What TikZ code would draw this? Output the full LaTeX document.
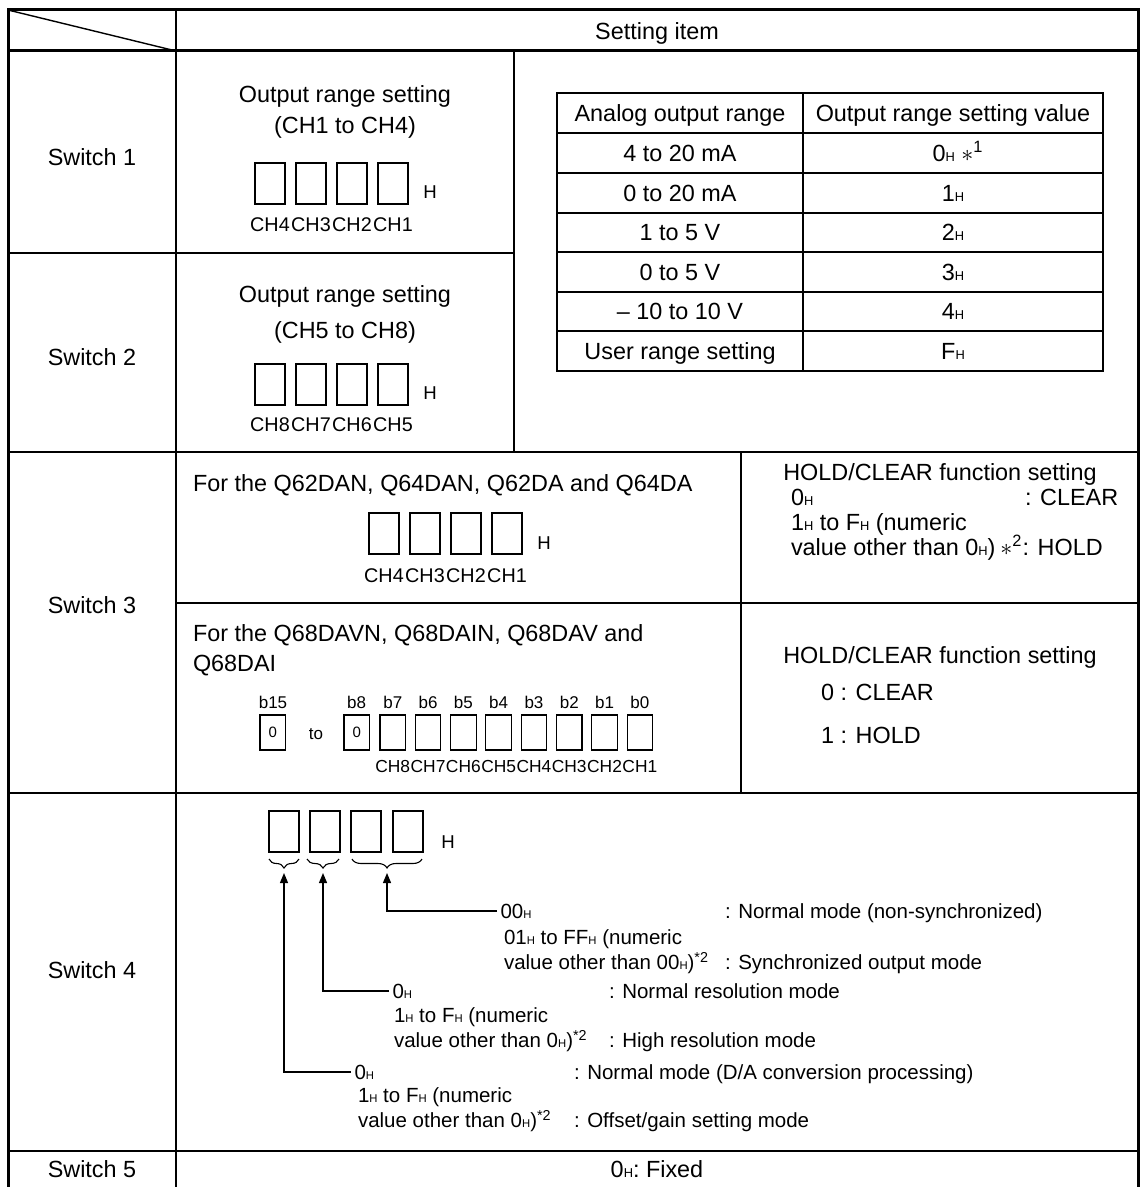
\documentclass[tikz,border=0pt]{standalone}
\usepackage{fontspec}
\setmainfont{Liberation Sans}
\usetikzlibrary{arrows.meta,decorations.pathreplacing}
\newcommand\Hs{{\fontsize{0.55em}{0.6em}\selectfont H}}
\begin{document}
\begin{tikzpicture}[x=0.5pt,y=-0.5pt,
  every node/.style={inner sep=0pt, outer sep=0pt},
  main/.style={font=\fontsize{11.7}{14}\selectfont, text height=8.4pt, text depth=0pt},
  swf/.style={font=\fontsize{10.25}{12}\selectfont, text height=7.35pt, text depth=0pt},
  chf/.style={font=\fontsize{9.9}{11}\selectfont, text height=7.1pt, text depth=0pt},
  chg/.style={font=\fontsize{8.7}{10}\selectfont, text height=6.2pt, text depth=0pt},
  bf/.style={font=\fontsize{8.5}{10}\selectfont, text height=6.2pt, text depth=0pt},
  hf/.style={font=\fontsize{9.3}{11}\selectfont, text height=6.7pt, text depth=0pt},
  zf/.style={font=\fontsize{7.5}{9}\selectfont, text height=5.4pt, text depth=0pt},
  chbox/.style={draw, line width=0.55pt, minimum width=15pt, minimum height=20.5pt, anchor=north west},
  bbox/.style={draw, line width=0.55pt, minimum width=12.75pt, minimum height=17.5pt, anchor=north west},
  outerline/.style={line width=1.5pt},
  rowline/.style={line width=1pt},
  tabo/.style={line width=1.4pt},
  tabi/.style={line width=0.75pt},
  arr/.style={line width=0.6pt, -{Triangle[length=5pt,width=4pt]}},
  brc/.style={line width=0.55pt, decorate, decoration={brace, amplitude=4.5pt}},
]
\fill[white] (0,0) rectangle (1141,1187);
\useasboundingbox (0,0) rectangle (1141,1187);

% ---------- main grid ----------
\draw[outerline] (8,1187) -- (8,10) -- (1138,10) -- (1138,1187);
\draw[outerline] (8,51) -- (1138,51);
\draw[rowline] (176,10) -- (176,1187);
\draw[line width=0.7pt] (8,10) -- (176,51);
\draw[rowline] (8,253) -- (514,253);
\draw[rowline] (514,51) -- (514,452);
\draw[rowline] (8,452) -- (1138,452);
\draw[rowline] (741,452) -- (741,793);
\draw[rowline] (176,603) -- (1138,603);
\draw[rowline] (8,793) -- (1138,793);
\draw[rowline] (8,1151) -- (1138,1151);

% ---------- header ----------
\node[main] (hdr) at (657,31) {Setting item};
\node[main] (sw1) at (92,157) {Switch 1};
\node[main] (sw2) at (92,357) {Switch 2};
\node[main] (sw3) at (92,605) {Switch 3};
\node[main] (sw4) at (92,970) {Switch 4};
\node[main] (sw5) at (92,1169) {Switch 5};

% ---------- switch 1 ----------
\node[main] (s1t1) at (345,94) {Output range setting};
\node[main] (s1t2) at (345,125) {(CH1 to CH4)};
\foreach \k/\x in {4/255,3/296,2/337,1/378} {
  \node[chbox] (s1b\k) at (\x,163) {};
  \node[chf] (s1c\k) at (\x+15,224) {CH\k};
}
\node[hf] (s1h) at (430,192) {H};

% ---------- switch 2 ----------
\node[main] (s2t1) at (345,294) {Output range setting};
\node[main] (s2t2) at (345,330) {(CH5 to CH8)};
\foreach \k/\x in {8/255,7/296,6/337,5/378} {
  \node[chbox] (s2b\k) at (\x,364) {};
  \node[chf] (s2c\k) at (\x+15,424) {CH\k};
}
\node[hf] (s2h) at (430,393) {H};

% ---------- inner table ----------
\draw[tabi] (557,133) -- (1103,133);
\foreach \yy in {173,213,252,292,331} { \draw[tabi] (557,\yy) -- (1103,\yy); }
\draw[tabi] (803,93) -- (803,371);
\draw[tabo] (557,93) rectangle (1103,371);
\node[main] (ta0) at (680,113) {Analog output range};
\node[main] (tb0) at (953,113) {Output range setting value};
\node[main] (ta1) at (680,153) {4 to 20 mA};
\node[main] (tb1) at (958,153) {0\Hs\ $\ast$\textsuperscript{1}};
\node[main] (ta2) at (680,193) {0 to 20 mA};
\node[main] (tb2) at (953,193) {1\Hs};
\node[main] (ta3) at (680,232) {1 to 5 V};
\node[main] (tb3) at (953,232) {2\Hs};
\node[main] (ta4) at (680,272) {0 to 5 V};
\node[main] (tb4) at (953,272) {3\Hs};
\node[main] (ta5) at (680,311) {– 10 to 10 V};
\node[main] (tb5) at (953,311) {4\Hs};
\node[main] (ta6) at (680,351) {User range setting};
\node[main] (tb6) at (953,351) {F\Hs};

% ---------- switch 3 (upper) ----------
\node[main, anchor=west] (s3a) at (193,483) {For the Q62DAN, Q64DAN, Q62DA and Q64DA};
\foreach \k/\x in {4/369,3/410,2/451,1/492} {
  \node[chbox] (s3b\k) at (\x,513) {};
  \node[chf] (s3c\k) at (\x+15,575) {CH\k};
}
\node[hf] (s3h) at (544,543) {H};
\node[main] (s3r1) at (940,472) {HOLD/CLEAR function setting};
\node[main, anchor=west] (s3r2) at (791,497) {0\Hs};
\node[main, anchor=west] (s3r3) at (1025,497) {: CLEAR};
\node[main, anchor=west] (s3r4) at (791,522) {1\Hs{} to F\Hs{} (numeric};
\node[main, anchor=west] (s3r5) at (791,547) {value other than 0\Hs)\hspace{2.5pt}$\ast$\textsuperscript{2}: HOLD};

% ---------- switch 3 (lower) ----------
\node[main, anchor=west] (s3d1) at (193,633) {For the Q68DAVN, Q68DAIN, Q68DAV and};
\node[main, anchor=west] (s3d2) at (193,663) {Q68DAI};
\node[bf] (lb15) at (273,702) {b15};
\node[bbox, zf] (bx15) at (260,715) {0};
\node[bf] (lto) at (316,733) {to};
\node[bf] (lb8) at (356.5,702) {b8};
\node[bbox, zf] (bx8) at (344,715) {0};
\foreach \k in {0,...,7} {
  \pgfmathsetmacro\xx{380+(7-\k)*35.3}
  \pgfmathtruncatemacro\ch{\k+1}
  \node[bf] (lb\k) at (\xx+12.75,702) {b\k};
  \node[bbox] (bx\k) at (\xx,715) {};
  \node[chg] (cc\k) at (\xx+12.75,766) {CH\ch};
}
\node[main] (s3e1) at (940,655) {HOLD/CLEAR function setting};
\node[main, anchor=west] (s3e2) at (821,692) {0 : CLEAR};
\node[main, anchor=west] (s3e3) at (821,735) {1 : HOLD};

% ---------- switch 4 ----------
\foreach \k/\x in {1/269,2/310,3/351,4/393} {
  \node[chbox] (s4b\k) at (\x,811) {};
}
\node[hf] (s4h) at (448,842) {H};
\draw[brc] (299,859) -- (269,859);
\draw[brc] (339,859) -- (307,859);
\draw[brc] (422,859) -- (352,859);
\coordinate (t1) at (284,873);
\coordinate (t2) at (323,873);
\coordinate (t3) at (387,873);

\node[swf, anchor=west, inner xsep=1.75pt] (m1a) at (497,911) {00\Hs};
\node[swf, anchor=west] (m1b) at (504,937) {01\Hs{} to FF\Hs{} (numeric};
\node[swf, anchor=west] (m1c) at (504,962) {value other than 00\Hs)\textsuperscript{*2}};
\node[swf, anchor=west] (m1d) at (725,911) {: Normal mode (non-synchronized)};
\node[swf, anchor=west] (m1e) at (725,962) {: Synchronized output mode};

\node[swf, anchor=west, inner xsep=1.75pt] (m2a) at (389,991) {0\Hs};
\node[swf, anchor=west] (m2b) at (394,1015) {1\Hs{} to F\Hs{} (numeric};
\node[swf, anchor=west] (m2c) at (394,1040) {value other than 0\Hs)\textsuperscript{*2}};
\node[swf, anchor=west] (m2d) at (609,991) {: Normal resolution mode};
\node[swf, anchor=west] (m2e) at (609,1040) {: High resolution mode};

\node[swf, anchor=west, inner xsep=1.75pt] (m3a) at (351,1072) {0\Hs};
\node[swf, anchor=west] (m3b) at (358,1095) {1\Hs{} to F\Hs{} (numeric};
\node[swf, anchor=west] (m3c) at (358,1120) {value other than 0\Hs)\textsuperscript{*2}};
\node[swf, anchor=west] (m3d) at (574,1072) {: Normal mode (D/A conversion processing)};
\node[swf, anchor=west] (m3e) at (574,1120) {: Offset/gain setting mode};

\draw[arr] (m1a.west) -| (t3);
\draw[arr] (m2a.west) -| (t2);
\draw[arr] (m3a.west) -| (t1);

% ---------- switch 5 ----------
\node[main] (s5) at (657,1169) {0\Hs: Fixed};
\end{tikzpicture}
\end{document}
